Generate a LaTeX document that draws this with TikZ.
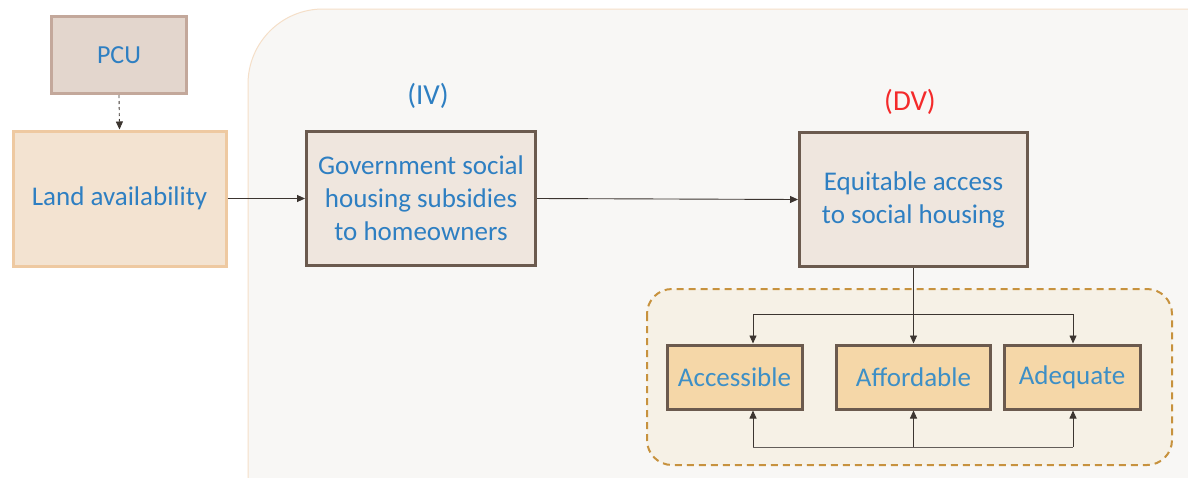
\documentclass[tikz,border=0pt]{standalone}
\usepackage{fontspec}
\setmainfont{Carlito}
\usetikzlibrary{arrows.meta}
\definecolor{txtblue}{HTML}{2E7FC2}
\definecolor{subblue}{HTML}{3D8FC6}
\definecolor{dvred}{HTML}{F42A2A}
\definecolor{pcufill}{HTML}{E3D6CD}
\definecolor{pcudraw}{HTML}{C3A89B}
\definecolor{landfill}{HTML}{F3E3D1}
\definecolor{landdraw}{HTML}{EEC9A1}
\definecolor{mainfill}{HTML}{EFE6DE}
\definecolor{maindraw}{HTML}{6B5A4E}
\definecolor{subfill}{HTML}{F5D7A8}
\definecolor{bgfill}{HTML}{F8F7F5}
\definecolor{bgdraw}{HTML}{F5DFC8}
\definecolor{grpfill}{HTML}{F6F1E6}
\definecolor{grpdraw}{HTML}{C7923E}
\definecolor{arrowc}{HTML}{3C3530}
\begin{document}
\begin{tikzpicture}[x=1pt,y=-1pt,
  boxtext/.style={text=txtblue,font=\fontsize{27}{33}\selectfont,align=center},
  pcubox/.style={draw=pcudraw,fill=pcufill,line width=3pt,text=txtblue,font=\fontsize{26}{30}\selectfont},
  landbox/.style={draw=landdraw,fill=landfill,line width=3pt,boxtext},
  mainbox/.style={draw=maindraw,fill=mainfill,line width=3pt,boxtext},
  subbox/.style={draw=maindraw,fill=subfill,line width=3pt,text=subblue,font=\fontsize{27}{30}\selectfont},
  conn/.style={draw=arrowc,line width=0.9pt,-{Triangle[length=8pt,width=7pt]}},
  plain/.style={draw=arrowc,line width=0.9pt}]
\useasboundingbox (0,0) rectangle (1188,477);
\fill[white] (0,0) rectangle (1188,477);
% big background panel
\begin{scope}
\clip (0,0) rectangle (1188,477);
\draw[bgdraw,fill=bgfill,line width=1pt,rounded corners=75pt] (248,9) rectangle (1260,560);
\end{scope}
% dashed group
\draw[grpdraw,fill=grpfill,line width=2pt,dash pattern=on 7pt off 5pt,rounded corners=25pt] (647,289) rectangle (1172,465);
% nodes
\node[pcubox,minimum width=135pt,minimum height=77pt] (pcu) at (119,55) {PCU};
\node[landbox,minimum width=213pt,minimum height=135pt] (land) at (119.5,198.5) {Land availability};
\node[mainbox,minimum width=229pt,minimum height=134pt] (gov) at (421,198.5) {Government social\\housing subsidies\\to homeowners};
\node[mainbox,minimum width=228pt,minimum height=134pt] (eq) at (913.5,199.5) {Equitable access\\to social housing};
\node[text=txtblue,font=\fontsize{29}{32}\selectfont] (iv) at (428,96) {(IV)};
\node[text=dvred,font=\fontsize{29}{32}\selectfont] (dv) at (910,102) {(DV)};
\node[subbox,minimum width=135pt,minimum height=64pt] (acc) at (734.5,377) {Accessible};
\node[subbox,minimum width=154pt,minimum height=64pt] (aff) at (913.5,377) {Affordable};
\node[subbox,minimum width=136pt,minimum height=64pt] (ade) at (1072,377) {Adequate};
% connectors
\draw[conn,dashed] (pcu.south) -- (land.north);
\draw[conn] (land.east) -- (gov.west);
\draw[conn] (gov.east) -- (eq.west);
\coordinate (tl) at (753,314);
\coordinate (tr) at (1073,314);
\coordinate (bl) at (753,447);
\coordinate (br) at (1073,447);
\coordinate (bm) at (913.5,447);
\draw[conn] (eq.south) -- (aff.north);
\draw[plain] (tl) -- (tr);
\draw[conn] (tl) -- (tl |- acc.north);
\draw[conn] (tr) -- (tr |- ade.north);
\draw[plain,draw=arrowc!80] (bl) -- (br);
\draw[conn] (bl) -- (bl |- acc.south);
\draw[conn] (bm) -- (aff.south);
\draw[conn] (br) -- (br |- ade.south);
\end{tikzpicture}
\end{document}
